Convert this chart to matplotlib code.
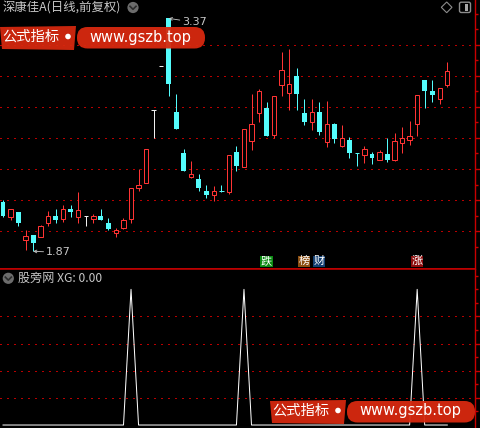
import matplotlib
matplotlib.use("Agg")
import matplotlib.pyplot as plt
from matplotlib.patches import FancyBboxPatch, Polygon, Circle, Rectangle
from matplotlib.transforms import blended_transform_factory

plt.rcParams['font.family'] = ['Noto Sans CJK SC', 'DejaVu Sans']

# daily candles
OPEN = [2.19, 2.09, 2.12, 1.94, 1.975, 1.96, 2.05, 2.10, 2.08, 2.14,
        2.09, 2.10, 2.08, 2.10, 2.05, 1.99, 2.02, 2.08, 2.28, 2.31,
        2.78, 3.06, 3.37, 2.77, 2.50, 2.35, 2.335, 2.26, 2.23, 2.26,
        2.25, 2.51, 2.41, 2.58, 2.76, 2.79, 2.62, 2.94, 2.89, 3.00,
        2.76, 2.70, 2.77, 2.575, 2.69, 2.55, 2.585, 2.50, 2.49, 2.495,
        2.46, 2.495, 2.455, 2.565, 2.585, 2.69, 2.97, 2.90, 2.85, 2.94]
HIGH = [2.20, 2.14, 2.12, 2.01, 1.975, 2.04, 2.13, 2.14, 2.17, 2.17,
        2.25, 2.10, 2.11, 2.14, 2.085, 2.02, 2.086, 2.28, 2.40, 2.53,
        2.78, 3.06, 3.37, 2.88, 2.53, 2.45, 2.37, 2.30, 2.29, 2.30,
        2.49, 2.55, 2.66, 2.88, 2.915, 2.83, 2.87, 3.15, 3.17, 3.05,
        2.85, 2.85, 2.83, 2.84, 2.695, 2.68, 2.605, 2.50, 2.545, 2.51,
        2.525, 2.60, 2.63, 2.67, 2.71, 2.875, 2.97, 2.97, 2.92, 3.09]
LOW = [2.09, 2.07, 2.03, 1.88, 1.87, 1.96, 2.035, 2.05, 2.06, 2.09,
       2.05, 2.03, 2.05, 2.07, 2.01, 1.96, 2.015, 2.05, 2.26, 2.31,
       2.60, 3.06, 2.87, 2.66, 2.39, 2.34, 2.26, 2.21, 2.195, 2.25,
       2.24, 2.39, 2.41, 2.52, 2.70, 2.61, 2.60, 2.87, 2.78, 2.78,
       2.68, 2.65, 2.62, 2.54, 2.57, 2.54, 2.47, 2.42, 2.44, 2.43,
       2.46, 2.445, 2.45, 2.50, 2.555, 2.61, 2.79, 2.83, 2.82, 2.925]
CLOSE = [2.10, 2.14, 2.05, 1.97, 1.925, 2.03, 2.095, 2.07, 2.14, 2.12,
         2.135, 2.10, 2.097, 2.07, 2.015, 2.01, 2.07, 2.28, 2.30, 2.53,
         2.78, 3.06, 2.95, 2.66, 2.39, 2.37, 2.28, 2.23, 2.26, 2.255,
         2.49, 2.42, 2.66, 2.69, 2.90, 2.61, 2.87, 3.035, 2.945, 2.88,
         2.70, 2.77, 2.64, 2.69, 2.59, 2.60, 2.50, 2.495, 2.53, 2.47,
         2.51, 2.46, 2.58, 2.60, 2.615, 2.875, 2.90, 2.875, 2.92, 3.03]

# XG signal line in the lower panel
XG = [0, 0, 0, 0, 0, 0, 0, 0, 0, 0,
      0, 0, 0, 0, 0, 0, 0, 1, 0, 0,
      0, 0, 0, 0, 0, 0, 0, 0, 0, 0,
      0, 0, 1, 0, 0, 0, 0, 0, 0, 0,
      0, 0, 0, 0, 0, 0, 0, 0, 0, 0,
      0, 0, 0, 0, 0, 1, 0, 0, 0, 0]

SIGN_IDX = [35, 40, 42, 55]
SIGN_TEXT = ['跌', '榜', '财', '涨']
SIGN_BG = ['#0b8a12', '#8c4f12', '#133f72', '#8c0c0c']

PRICE_TICKS = [2.0, 2.2, 2.4, 2.6, 2.8, 3.0, 3.2]
PRICE_MINOR = [1.9, 2.1, 2.3, 2.5, 2.7, 2.9, 3.1, 3.3, 3.4]
XG_TICKS = [0.2, 0.4, 0.6, 0.8]
XG_MINOR = [0.1, 0.3, 0.5, 0.7, 0.9, 1.0, 1.1]

TITLE = '深康佳A(日线,前复权)'
SUB_TITLE = '股旁网 XG: 0.00'

RED = '#ff3434'
CYAN = '#54fcfc'
WHITE = '#f0f0f0'
AXIS_RED = '#c80000'
GRID_RED = '#b80000'
TEXT_GRAY = '#c8c8c8'
LW = 0.72  # one pixel


def style_axis(ax, ticks, minor, top_spine):
    ax.set_facecolor('black')
    for side in ['left', 'top', 'bottom', 'right']:
        ax.spines[side].set_visible(False)
    ax.spines['right'].set_visible(True)
    ax.spines['right'].set_color(AXIS_RED)
    ax.spines['right'].set_linewidth(1.0)
    edge = 'top' if top_spine else 'bottom'
    ax.spines[edge].set_visible(True)
    ax.spines[edge].set_color(AXIS_RED)
    ax.spines[edge].set_linewidth(1.1)
    ax.set_xticks([])
    ax.yaxis.tick_right()
    ax.set_yticks(ticks)
    ax.set_yticks(minor, minor=True)
    ax.tick_params(axis='y', which='major', length=3.6, color=AXIS_RED,
                   width=1.0, labelright=False, direction='out')
    ax.tick_params(axis='y', which='minor', length=2.2, color=AXIS_RED,
                   width=1.0, direction='out')
    # dotted red guide lines, one dot every 6 px, kept crisp
    for v in ticks:
        ax.axhline(v, color=GRID_RED, linestyle=(0, (1, 5)), lw=0.75,
                   antialiased=False, zorder=1)


def draw_candles(ax):
    for i, (o, h, l, c) in enumerate(zip(OPEN, HIGH, LOW, CLOSE)):
        if c > o:
            col = RED
        elif c < o:
            col = CYAN
        else:
            col = WHITE
        ax.vlines(i, l, h, color=col, lw=LW, zorder=2)
        if abs(c - o) < 0.006:
            ax.hlines(o, i - 0.3, i + 0.3, color=col, lw=LW, zorder=3)
        elif c > o:
            ax.bar(i, c - o, bottom=o, width=0.58, facecolor='black',
                   edgecolor=col, lw=LW, zorder=3)
        else:
            ax.bar(i, o - c, bottom=c, width=0.66, color=col, lw=0, zorder=3)

    hi = HIGH.index(max(HIGH))
    lo = LOW.index(min(LOW))
    arrow = dict(arrowstyle='->', color=TEXT_GRAY, lw=0.6,
                 shrinkA=0, shrinkB=0, mutation_scale=5)
    ax.annotate('%.2f' % HIGH[hi], xy=(hi, HIGH[hi]), xytext=(10, -3),
                textcoords='offset points', color=TEXT_GRAY, fontsize=8,
                family='DejaVu Sans', va='center', ha='left', arrowprops=arrow)
    ax.annotate('%.2f' % LOW[lo], xy=(lo, LOW[lo]), xytext=(9.5, -0.8),
                textcoords='offset points', color=TEXT_GRAY, fontsize=8,
                family='DejaVu Sans', va='center', ha='left', arrowprops=arrow)

    trans = blended_transform_factory(ax.transData, ax.transAxes)
    for i, t, bg in zip(SIGN_IDX, SIGN_TEXT, SIGN_BG):
        ax.text(i, 0.029, t, transform=trans, color='white', fontsize=8,
                ha='center', va='center',
                bbox=dict(boxstyle='square,pad=0.05', fc=bg, ec='none'))


def draw_watermark(ov, x0, y0):
    red = '#d8290f'
    ov.add_patch(Polygon([(x0, y0 + 1), (x0 + 76, y0), (x0 + 74, y0 + 24),
                          (x0 + 2, y0 + 23)], closed=True, fc=red,
                         ec='none', alpha=0.93, zorder=5))
    ov.add_patch(FancyBboxPatch((x0 + 77, y0 + 1), 128, 21.5,
                                boxstyle='round,pad=0,rounding_size=10.5',
                                fc=red, ec='none', alpha=0.95, zorder=5))
    ov.text(x0 + 31, y0 + 11, '公式指标', color='white', fontsize=10.3,
            ha='center', va='center', zorder=6)
    ov.add_patch(Circle((x0 + 68, y0 + 10.5), 2.8, fc='white', ec='none',
                        zorder=6))
    ov.text(x0 + 140, y0 + 11, 'www.gszb.top', color='white', fontsize=10.5,
            family='DejaVu Sans', ha='center', va='center', zorder=6)


def draw_overlay(fig):
    ov = fig.add_axes([0, 0, 1, 1], zorder=10)
    ov.set_xlim(0, 480)
    ov.set_ylim(428, 0)
    ov.axis('off')
    ov.patch.set_alpha(0)

    ov.text(3, 8, TITLE, color=TEXT_GRAY, fontsize=8.9, va='center',
            ha='left')
    ov.text(18, 278.5, SUB_TITLE, color=TEXT_GRAY, fontsize=8.7,
            va='center', ha='left')
    for cx, cy in [(133, 7.5), (8.3, 278.3)]:
        ov.add_patch(Circle((cx, cy), 5.6, fc='#6c6c6c', ec='none'))
        ov.plot([cx - 3, cx, cx + 3], [cy - 1.2, cy + 1.8, cy - 1.2],
                color='#2c2c2c', lw=1.2)

    ov.add_patch(Polygon([(446.7, 2), (452, 7.3), (446.7, 12.7),
                          (441.3, 7.3)], closed=True, fc='none',
                         ec='#8c8c8c', lw=0.8))
    ov.add_patch(FancyBboxPatch((459.5, 2.2), 11, 10.3,
                                boxstyle='round,pad=0,rounding_size=1.8',
                                fc='none', ec='#8c8c8c', lw=1.0))
    ov.add_patch(Rectangle((465, 4.2), 3, 6.3, fc='#a8a8a8', ec='none'))

    draw_watermark(ov, 0, 26)
    draw_watermark(ov, 270, 400)


def main():
    fig = plt.figure(figsize=(4.8, 4.28), dpi=100, facecolor='black')
    w = 475 / 480
    split = (428 - 269) / 428

    ax = fig.add_axes([0, split, w, 1 - split])
    style_axis(ax, PRICE_TICKS, PRICE_MINOR, top_spine=False)
    ax.set_xlim(-0.4, 62.68)
    ax.set_ylim(1.756, 3.488)
    draw_candles(ax)

    ax2 = fig.add_axes([0, 0, w, split])
    style_axis(ax2, XG_TICKS, XG_MINOR, top_spine=True)
    ax2.set_xlim(-0.4, 62.68)
    ax2.set_ylim(-0.022, 1.15)
    ax2.plot(range(len(XG)), XG, color='white', lw=LW, zorder=3)

    draw_overlay(fig)
    fig.savefig('out.png', dpi=100, facecolor='black')


if __name__ == '__main__':
    main()
